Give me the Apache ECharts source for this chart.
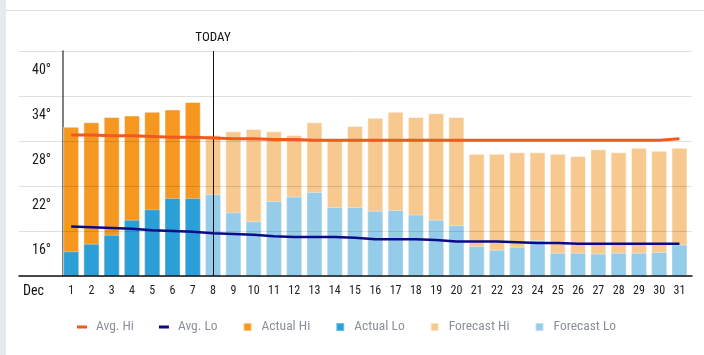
<!DOCTYPE html>
<html>
<head>
<meta charset="utf-8">
<script src="https://cdn.jsdelivr.net/npm/echarts@6/dist/echarts.min.js"></script>
<style>
  html, body { margin: 0; padding: 0; background: #fff; }
  #strip { position: absolute; left: 0; top: 0; width: 6px; height: 355px; background: #e4eaf2; }
  #topline { position: absolute; left: 6px; top: 10px; width: 698px; height: 1px; background: #dcdcdc; }
  #chart { position: absolute; left: 0; top: 0; width: 704px; height: 355px; }
</style>
</head>
<body>
<div id="strip"></div>
<div id="topline"></div>
<div id="chart"></div>
<script>
const FONT = "'Roboto Condensed', 'Roboto', sans-serif";

const days = ['1','2','3','4','5','6','7','8','9','10','11','12','13','14','15','16','17','18','19','20','21','22','23','24','25','26','27','28','29','30','31'];
const monthLabel = 'Dec';
const todayDay = '8';
const yTicks = { min: 10, max: 40, interval: 6 };

const actualHi = [29.9, 30.5, 31.2, 31.4, 31.9, 32.2, 33.2, '-', '-', '-', '-', '-', '-', '-', '-', '-', '-', '-', '-', '-', '-', '-', '-', '-', '-', '-', '-', '-', '-', '-', '-'];
const actualLo = [13.3, 14.3, 15.5, 17.5, 18.9, 20.4, 20.4, '-', '-', '-', '-', '-', '-', '-', '-', '-', '-', '-', '-', '-', '-', '-', '-', '-', '-', '-', '-', '-', '-', '-', '-'];
const forecastHi = ['-', '-', '-', '-', '-', '-', '-', 28.8, 29.3, 29.6, 29.3, 28.8, 30.5, 28.1, 30.0, 31.1, 31.9, 31.2, 31.7, 31.2, 26.3, 26.3, 26.5, 26.5, 26.3, 26.0, 26.9, 26.5, 27.1, 26.7, 27.1];
const forecastLo = ['-', '-', '-', '-', '-', '-', '-', 20.9, 18.5, 17.3, 20.0, 20.6, 21.2, 19.2, 19.2, 18.7, 18.8, 18.2, 17.5, 16.8, 14.0, 13.5, 13.9, 14.8, 13.1, 13.1, 13.0, 13.1, 13.1, 13.2, 14.2];
const avgHi = [28.8, 28.8, 28.7, 28.7, 28.6, 28.5, 28.5, 28.4, 28.3, 28.3, 28.2, 28.2, 28.1, 28.1, 28.1, 28.1, 28.1, 28.1, 28.1, 28.1, 28.1, 28.1, 28.1, 28.1, 28.1, 28.1, 28.1, 28.1, 28.1, 28.1, 28.3];
const avgLo = [16.6, 16.5, 16.4, 16.3, 16.1, 16.0, 15.9, 15.7, 15.6, 15.5, 15.3, 15.2, 15.2, 15.2, 15.1, 14.9, 14.9, 14.9, 14.8, 14.6, 14.6, 14.6, 14.5, 14.4, 14.4, 14.3, 14.3, 14.3, 14.3, 14.3, 14.3];

const C = {
  avgHi: '#f05a22', avgLo: '#0b0b8a',
  actHi: '#f6981f', actLo: '#2b9fd8',
  fcHi: '#f8c98f', fcLo: '#95ccea'
};

const chart = echarts.init(document.getElementById('chart'), null, { renderer: 'canvas' });

const barBase = {
  type: 'bar', xAxisIndex: 1, yAxisIndex: 1, barWidth: 16, barGap: '-100%',
  z: 2
};
const LINE_ICON = 'path://M0,0 h10 v3 h-10 z';
const SQ_ICON = 'path://M0,0 h8 v8 h-8 z';

chart.setOption({
  animation: false,
  backgroundColor: 'transparent',
  textStyle: { fontFamily: FONT },
  grid: [
    { left: 19, right: 12, top: 51, bottom: 79 },
    { left: 61, right: 14.4, top: 51, bottom: 79 }
  ],
  xAxis: [
    { type: 'category', gridIndex: 0, data: days, z: 6,
      axisLine: { show: true, lineStyle: { color: '#111', width: 1.5 } },
      axisTick: { show: false }, axisLabel: { show: false }, splitLine: { show: false } },
    { type: 'category', gridIndex: 1, data: days,
      axisLine: { show: false }, axisTick: { show: false },
      axisLabel: { color: '#222', fontSize: 12, margin: 9, interval: 0, fontFamily: FONT },
      name: monthLabel, nameLocation: 'start', nameGap: 17,
      nameTextStyle: { color: '#111', fontSize: 14, fontFamily: FONT, verticalAlign: 'top', lineHeight: 14, padding: [8, 0, 0, 0] } }
  ],
  yAxis: [
    { type: 'value', gridIndex: 0, min: yTicks.min, max: yTicks.max, interval: yTicks.interval, z: 5,
      axisLine: { show: false }, axisTick: { show: false },
      splitLine: { show: true, lineStyle: { color: 'rgba(0,0,0,0.12)', width: 1 } },
      axisLabel: { inside: true, margin: 13, color: '#1a1a1a', fontSize: 14, fontFamily: FONT,
        verticalAlign: 'top', lineHeight: 14, padding: [12, 0, 0, 0],
        formatter: v => v === yTicks.min ? '' : v + '°' } },
    { type: 'value', gridIndex: 1, min: yTicks.min, max: yTicks.max, interval: yTicks.interval, offset: -2,
      axisLine: { show: true, lineStyle: { color: '#555', width: 1.5 } },
      axisTick: { show: false }, axisLabel: { show: false }, splitLine: { show: false } }
  ],
  legend: {
    left: 72, top: 315, itemGap: 25, itemWidth: 10, itemHeight: 8,
    textStyle: { color: '#8a8f9a', fontSize: 13.5, fontFamily: FONT, padding: [0, 0, 0, 4] },
    data: [
      { name: 'Avg. Hi', icon: LINE_ICON },
      { name: 'Avg. Lo', icon: LINE_ICON },
      { name: 'Actual Hi', icon: SQ_ICON },
      { name: 'Actual Lo', icon: SQ_ICON },
      { name: 'Forecast Hi', icon: SQ_ICON },
      { name: 'Forecast Lo', icon: SQ_ICON }
    ]
  },
  series: [
    Object.assign({}, barBase, { name: 'Actual Hi', data: actualHi,
      itemStyle: { color: C.actHi, borderColor: 'rgba(255,255,255,0.45)', borderWidth: 1 } }),
    Object.assign({}, barBase, { name: 'Actual Lo', data: actualLo,
      itemStyle: { color: C.actLo, borderColor: 'rgba(255,255,255,0.35)', borderWidth: 1 } }),
    Object.assign({}, barBase, { name: 'Forecast Hi', data: forecastHi,
      itemStyle: { color: C.fcHi, borderColor: 'rgba(255,255,255,0.5)', borderWidth: 1 },
      markLine: {
        silent: true, symbol: 'none', animation: false,
        lineStyle: { color: '#111', width: 1, type: 'solid' },
        label: { show: true, position: 'end', distance: 7, formatter: 'TODAY', color: '#111', fontSize: 13, fontFamily: FONT },
        data: [{ xAxis: todayDay }]
      } }),
    Object.assign({}, barBase, { name: 'Forecast Lo', data: forecastLo,
      itemStyle: { color: C.fcLo, borderColor: 'rgba(255,255,255,0.4)', borderWidth: 1 } }),
    { name: 'Avg. Hi', type: 'line', xAxisIndex: 1, yAxisIndex: 1, data: avgHi, z: 10,
      showSymbol: false, symbol: 'none', lineStyle: { color: C.avgHi, width: 3 }, itemStyle: { color: C.avgHi } },
    { name: 'Avg. Lo', type: 'line', xAxisIndex: 1, yAxisIndex: 1, data: avgLo, z: 10,
      showSymbol: false, symbol: 'none', lineStyle: { color: C.avgLo, width: 2.5 }, itemStyle: { color: C.avgLo } }
  ]
});
</script>
</body>
</html>
